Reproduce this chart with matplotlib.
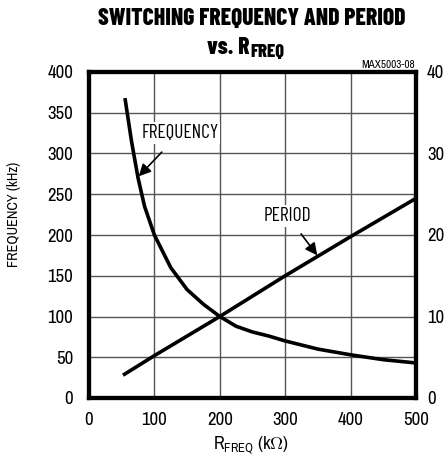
import matplotlib
matplotlib.use("Agg")
import matplotlib.pyplot as plt
from matplotlib import font_manager

names = {f.name for f in font_manager.fontManager.ttflist}
fam = "Archivo Narrow" if "Archivo Narrow" in names else "Liberation Sans"
cfam = "Barlow Condensed" if "Barlow Condensed" in names else fam
plt.rcParams['font.family'] = [fam, 'DejaVu Sans']
plt.rcParams['mathtext.fontset'] = 'custom'
plt.rcParams['mathtext.rm'] = fam

# Data
r_freq = [55, 65, 75, 85, 100, 125, 150, 175, 200, 225, 250, 275, 300, 350, 400, 450, 500]
frequency = [368, 315, 270, 235, 200, 160, 133, 115, 100, 88, 81, 76, 70, 60, 53, 47, 43]
r_period = [52, 100, 200, 300, 400, 500]
period = [2.8, 5.2, 10.0, 15.0, 19.8, 24.5]

fig = plt.figure(figsize=(4.46, 4.59), dpi=100)
ax = fig.add_axes([89/446, 1-398/459, (416-89)/446, (398-72)/459])
ax.plot(r_freq, frequency, color='black', lw=2.6, solid_capstyle='butt')
ax.set_xlim(0, 500)
ax.set_ylim(0, 400)
ax.set_xticks([0, 100, 200, 300, 400, 500])
ax.set_yticks(range(0, 401, 50))
ax.grid(True, color='#555555', lw=1.0)
ax.tick_params(axis='y', length=0, labelsize=13.5, pad=11.5)
ax.tick_params(axis='x', length=0, labelsize=13.5, pad=10)
for s in ax.spines.values():
    s.set_linewidth(3)

ax2 = ax.twinx()
ax2.plot(r_period, period, color='black', lw=2.6, solid_capstyle='butt')
ax2.set_ylim(0, 40)
ax2.set_yticks([0, 10, 20, 30, 40])
ax2.tick_params(length=0, labelsize=13.5, pad=8)
for s in ax2.spines.values():
    s.set_linewidth(3)

ax.annotate("FREQUENCY", xy=(76, 272), xytext=(139, 325), fontsize=14,
            ha='center', va='center', family=[cfam, 'DejaVu Sans'],
            bbox=dict(boxstyle='square,pad=0.1', fc='white', ec='none'),
            arrowprops=dict(arrowstyle='-|>', color='black', lw=1.2,
                            mutation_scale=18, shrinkA=8, shrinkB=0))
ax.annotate("PERIOD", xy=(349, 175), xytext=(304, 223), fontsize=14,
            ha='center', va='center', family=[cfam, 'DejaVu Sans'],
            bbox=dict(boxstyle='square,pad=0.1', fc='white', ec='none'),
            arrowprops=dict(arrowstyle='-|>', color='black', lw=1.2,
                            mutation_scale=18, shrinkA=6, shrinkB=0))

fig.text(14/446, 1-214/459, "FREQUENCY (kHz)", rotation=90, ha='center', va='center',
         fontsize=10.3)
fig.text(251/446, 1-445/459, r"R$_{\mathregular{FREQ}}$ (k$\Omega$)", ha='center',
         va='center', fontsize=13)

tkw = dict(fontweight='heavy', family=[cfam, 'DejaVu Sans'])
fig.text(252/446, 1-19/459, "SWITCHING FREQUENCY AND PERIOD", ha='center', va='center',
         fontsize=17, **tkw)
fig.text(250/446, 1-48/459, "vs. R", ha='right', va='center', fontsize=17, **tkw)
fig.text(250/446, 1-52/459, "FREQ", ha='left', va='center', fontsize=13.5, **tkw)
fig.text(415/446, 1-65/459, "MAX5003-08", ha='right', va='center', fontsize=8)

fig.savefig("out.png", dpi=100)
